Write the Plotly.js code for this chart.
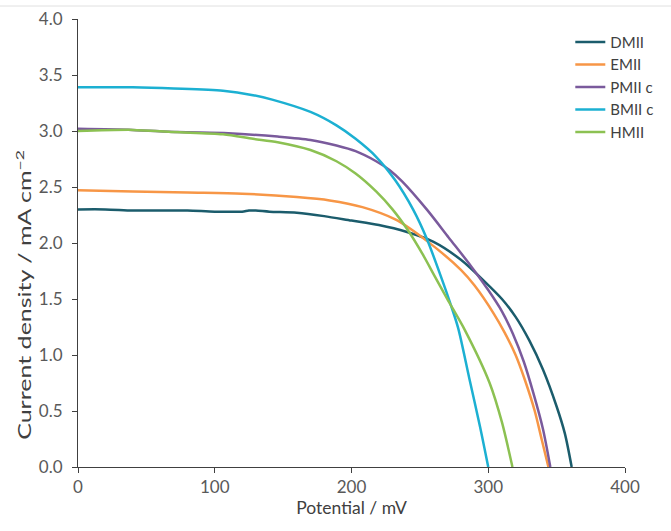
<!DOCTYPE html>
<html>
<head>
<meta charset="utf-8">
<script src="https://cdn.plot.ly/plotly-3.0.1.min.js"></script>
<style>html,body{margin:0;padding:0;background:#fff;}#chart{width:671px;height:531px;}</style>
</head>
<body>
<div id="chart"></div>
<script>
// Potential (mV) and current density (mA cm^-2)
const dmiiV = [0, 20, 40, 60, 80, 100, 120, 125, 130, 140, 160, 180, 200, 220, 240, 260, 280, 297, 310, 320, 330, 340, 350, 356, 361];
const dmiiJ = [2.30, 2.30, 2.29, 2.29, 2.29, 2.28, 2.28, 2.29, 2.29, 2.28, 2.27, 2.24, 2.20, 2.16, 2.10, 2.01, 1.85, 1.66, 1.50, 1.34, 1.13, 0.87, 0.54, 0.30, 0];

const emiiV = [0, 40, 80, 120, 160, 184, 208, 232, 256, 280, 290, 304, 312, 320, 327, 334, 339, 344];
const emiiJ = [2.47, 2.46, 2.45, 2.44, 2.41, 2.38, 2.32, 2.21, 2.01, 1.76, 1.62, 1.37, 1.20, 1.00, 0.77, 0.50, 0.25, 0];

const pmiiV = [0, 40, 73, 110, 146, 170, 189, 203, 218, 228, 237, 255, 271, 287, 300, 310, 318, 326, 333, 340, 345.4];
const pmiiJ = [3.02, 3.01, 2.99, 2.98, 2.95, 2.92, 2.87, 2.82, 2.73, 2.65, 2.55, 2.30, 2.05, 1.80, 1.58, 1.39, 1.19, 0.94, 0.66, 0.34, 0];

const bmiiV = [0, 40, 70, 106, 128, 142, 170, 189, 203, 218, 232, 245, 255, 266, 272, 278, 286, 294, 300];
const bmiiJ = [3.39, 3.39, 3.38, 3.36, 3.32, 3.28, 3.17, 3.05, 2.93, 2.77, 2.56, 2.30, 2.04, 1.68, 1.47, 1.24, 0.80, 0.36, 0];

const hmiiV = [0, 40, 70, 106, 128, 146, 170, 189, 203, 218, 230, 242, 252, 261, 270, 283, 301, 310, 317.7];
const hmiiJ = [3.00, 3.01, 2.99, 2.97, 2.93, 2.90, 2.83, 2.73, 2.62, 2.46, 2.30, 2.10, 1.90, 1.70, 1.50, 1.22, 0.75, 0.40, 0];

const seriesNames = ["DMII", "EMII", "PMII c", "BMII c", "HMII"];
const seriesColors = ["#1b5c6c", "#f79646", "#7a5a9c", "#1cb0d2", "#8cc152"];
const xs = [dmiiV, emiiV, pmiiV, bmiiV, hmiiV];
const ys = [dmiiJ, emiiJ, pmiiJ, bmiiJ, hmiiJ];

const traces = seriesNames.map((n, i) => ({
  type: "scatter", mode: "lines", name: n,
  x: xs[i], y: ys[i],
  line: {color: seriesColors[i], width: 2.5, shape: "spline", smoothing: 0.8}
}));

const font = "Lato, 'Open Sans', sans-serif";
const layout = {
  width: 671, height: 531,
  margin: {l: 78, r: 39, t: 19, b: 64},
  paper_bgcolor: "#ffffff", plot_bgcolor: "#ffffff",
  font: {family: font, size: 17, color: "#595959"},
  showlegend: true,
  legend: {x: 0.9, y: 0.985, xanchor: "left", yanchor: "top",
           font: {family: font, size: 15, color: "#404040"},
           bgcolor: "rgba(0,0,0,0)", tracegroupgap: 0, itemwidth: 30},
  xaxis: {
    automargin: false,
    range: [0, 400], tickvals: [0, 100, 200, 300, 400], ticktext: ["0", "100", "200", "300", "400"],
    showgrid: false, zeroline: false, showline: true, linecolor: "#404040", linewidth: 1,
    ticks: "outside", ticklen: 5, tickcolor: "#404040",
    tickfont: {family: font, size: 17, color: "#595959"},
    title: {text: "Potential / mV", font: {family: font, size: 17.5, color: "#404040"}, standoff: 2}
  },
  yaxis: {
    automargin: false,
    range: [0, 4], tickvals: [0, 0.5, 1, 1.5, 2, 2.5, 3, 3.5, 4], tickformat: ".1f",
    showgrid: false, zeroline: false, showline: true, linecolor: "#404040", linewidth: 1,
    ticks: "outside", ticklen: 5, tickcolor: "#404040", ticklabelstandoff: 6,
    tickfont: {family: font, size: 17, color: "#595959"},
    title: {text: "Current density / mA cm<sup>−2</sup>", font: {family: font, size: 17.5, color: "#404040"}, standoff: 2}
  },
  shapes: [{type: "line", xref: "paper", yref: "paper", x0: -0.15, x1: 1.1, y0: 1.029, y1: 1.029,
            line: {color: "#e0e0e0", width: 1}}]
};

Plotly.newPlot("chart", traces, layout, {displayModeBar: false, staticPlot: true}).then(() => {
  // the reference's y title is drawn stretched along its length; mimic that
  const t = document.querySelector("#chart .g-ytitle text");
  if (!t) return;
  const bb = t.getBBox();
  const cx = bb.x + bb.width / 2;
  const base = t.getAttribute("transform") || "";
  const s = 1.43, shift = 52;
  t.setAttribute("transform", base + " translate(" + (cx - shift) + ",0) scale(" + s + ",1) translate(" + (-cx) + ",0)");
});
</script>
</body>
</html>
